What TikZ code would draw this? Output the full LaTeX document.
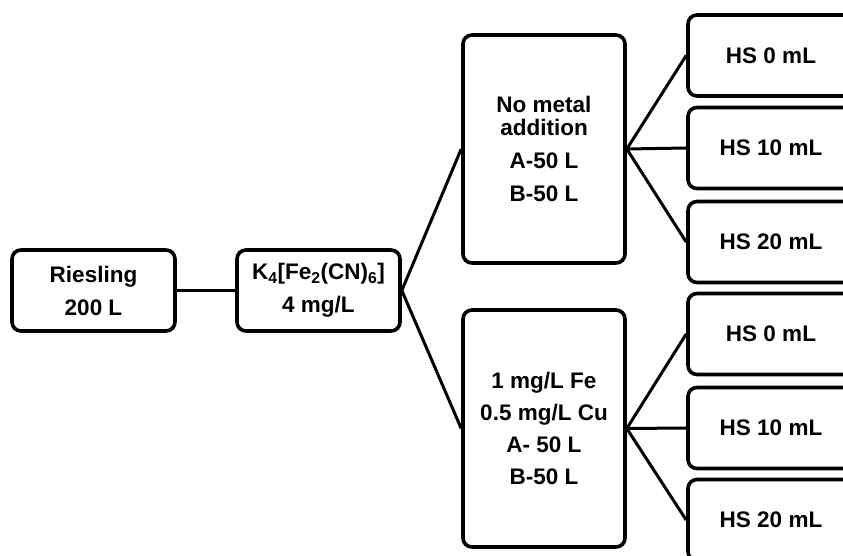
\documentclass[tikz,border=0pt]{standalone}
\usepackage{fontspec}
\setmainfont{Liberation Sans}
\begin{document}
\begin{tikzpicture}[x=1pt,y=-1pt,
  box/.style={draw=black, line width=3.6pt, rounded corners=9pt, fill=white,
    align=center, inner sep=0pt, font=\fontsize{22.5}{33}\selectfont\bfseries},
  small/.style={box, minimum width=163pt, minimum height=81pt},
  tall/.style={box, minimum width=162pt},
  hs/.style={box, minimum width=166pt, minimum height=81pt},
  link/.style={draw=black, line width=3pt}]
\useasboundingbox (0,0) rectangle (843,556);
\clip (0,0) rectangle (843,556);
\node[small] (ries) at (93.5,290.5) {Riesling\\200 L};
\node[small] (k4) at (318.5,290.5) {K\textsubscript{4}[Fe\textsubscript{2}(CN)\textsubscript{6}]\\4 mg/L};
\node[tall, minimum height=228pt] (nometal) at (544,149) {No metal\\[-10pt]addition\\A-50 L\\B-50 L};
\node[tall, minimum height=237pt] (metal) at (544,428.5) {1 mg/L Fe\\[-1pt]0.5 mg/L Cu\\[-1pt]A- 50 L\\[-1pt]B-50 L};
\node[hs] (h1) at (771,55.5) {HS 0 mL};
\node[hs] (h2) at (771,148) {HS 10 mL};
\node[hs] (h3) at (771,242) {HS 20 mL};
\node[hs] (h4) at (771,334) {HS 0 mL};
\node[hs] (h5) at (771,428) {HS 10 mL};
\node[hs] (h6) at (771,520) {HS 20 mL};
\draw[link] (ries.east) -- (k4.west);
\draw[link] (k4.east) -- (nometal.west);
\draw[link] (k4.east) -- (metal.west);
\draw[link] (nometal.east) -- (h1.west);
\draw[link] (nometal.east) -- (h2.west);
\draw[link] (nometal.east) -- (h3.west);
\draw[link] (metal.east) -- (h4.west);
\draw[link] (metal.east) -- (h5.west);
\draw[link] (metal.east) -- (h6.west);
\end{tikzpicture}
\end{document}
